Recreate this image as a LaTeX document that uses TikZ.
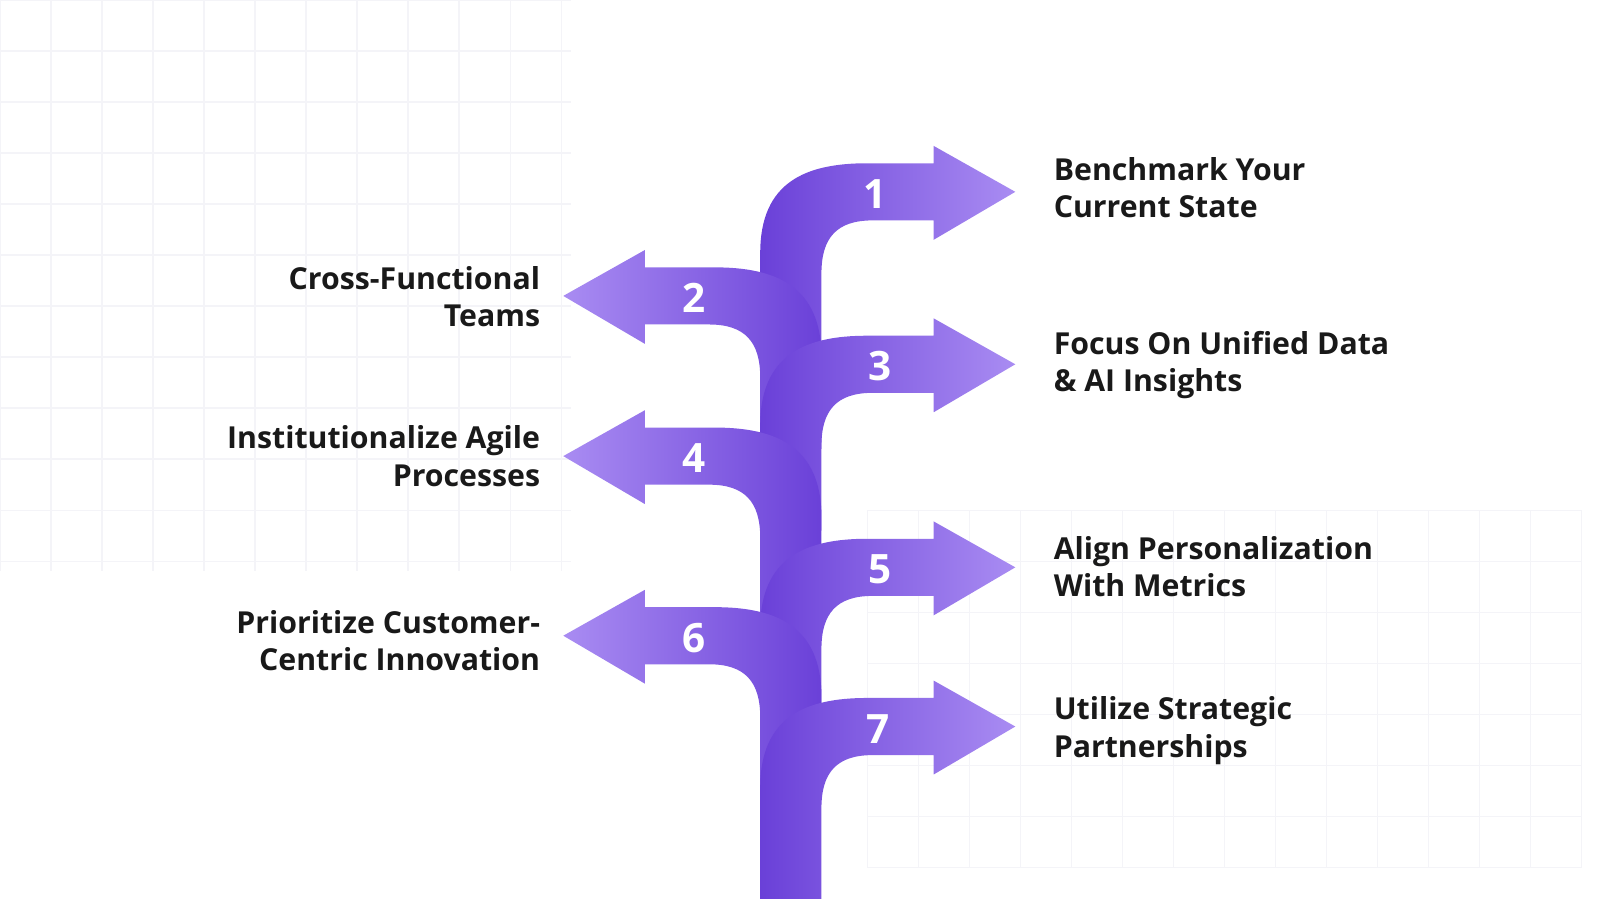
\documentclass[tikz,border=0pt]{standalone}
\usepackage{fontspec}
\setmainfont{Open Sans}
\definecolor{stemdark}{HTML}{6A40D8}
\definecolor{tiplight}{HTML}{A98CF2}
\definecolor{gridline}{HTML}{F4F4F8}
\tikzset{
  label/.style={font=\fontsize{8.6pt}{10.6pt}\selectfont\bfseries, text=black!90, inner sep=0pt},
  num/.style={font=\fontsize{11.5pt}{12pt}\selectfont\bfseries, text=white},
}
% right-going arrow: #1 = centre y, #2 = stem start y
\newcommand{\rightarrowband}[2]{%
  \shade[left color=stemdark, right color=tiplight]
    (745,#2) -- (745,#1+60) .. controls (745,#1-10) and (790,#1-28) .. (850,#1-28)
    -- (915,#1-28) -- (915,#1-45) -- (995,#1) -- (915,#1+47) -- (915,#1+28)
    -- (855,#1+28) .. controls (820,#1+28) and (805,#1+45) .. (805,#1+80)
    -- (805,#2) -- cycle;}
% left-going arrow
\newcommand{\leftarrowband}[2]{%
  \shade[right color=stemdark, left color=tiplight]
    (805,#2) -- (805,#1+60) .. controls (805,#1-10) and (760,#1-28) .. (700,#1-28)
    -- (632,#1-28) -- (632,#1-45) -- (552,#1) -- (632,#1+47) -- (632,#1+28)
    -- (695,#1+28) .. controls (730,#1+28) and (745,#1+45) .. (745,#1+80)
    -- (745,#2) -- cycle;}
\begin{document}
\begin{tikzpicture}[x=0.0102cm,y=-0.0102cm]
  \useasboundingbox (0,0) rectangle (1568,881);
  \clip (0,0) rectangle (1568,881);
  % faint background grid:
  \foreach \g in {0,50,...,550} {
    \draw[gridline] (\g,0) -- (\g,560);
    \draw[gridline] (0,\g) -- (560,\g);
  }
  \foreach \g in {850,900,...,1550} \draw[gridline] (\g,500) -- (\g,850);
  \foreach \g in {500,550,...,850} \draw[gridline] (850,\g) -- (1550,\g);
  % arrows, top to bottom:
  \rightarrowband{188}{340}
  \leftarrowband{290}{440}
  \rightarrowband{357}{520}
  \leftarrowband{447}{600}
  \rightarrowband{556}{700}
  \leftarrowband{623}{780}
  \rightarrowband{712}{899}
  % numbers:
  \node[num] (n1) at (858,190) {1};
  \node[num] (n2) at (680,292) {2};
  \node[num] (n3) at (862,359) {3};
  \node[num] (n4) at (680,449) {4};
  \node[num] (n5) at (862,558) {5};
  \node[num] (n6) at (680,625) {6};
  \node[num] (n7) at (860,714) {7};
  % labels:
  \node[label,anchor=west,align=left] (t1) at (1032,184) {Benchmark Your\\Current State};
  \node[label,anchor=east,align=right] (t2) at (530,291) {Cross-Functional\\Teams};
  \node[label,anchor=west,align=left] (t3) at (1032,358) {Focus On Unified Data\\\& AI Insights};
  \node[label,anchor=east,align=right] (t4) at (530,447) {Institutionalize Agile\\Processes};
  \node[label,anchor=west,align=left] (t5) at (1032,555) {Align Personalization\\With Metrics};
  \node[label,anchor=east,align=right] (t6) at (530,628) {Prioritize Customer-\\Centric Innovation};
  \node[label,anchor=west,align=left] (t7) at (1032,716) {Utilize Strategic\\Partnerships};
\end{tikzpicture}
\end{document}
